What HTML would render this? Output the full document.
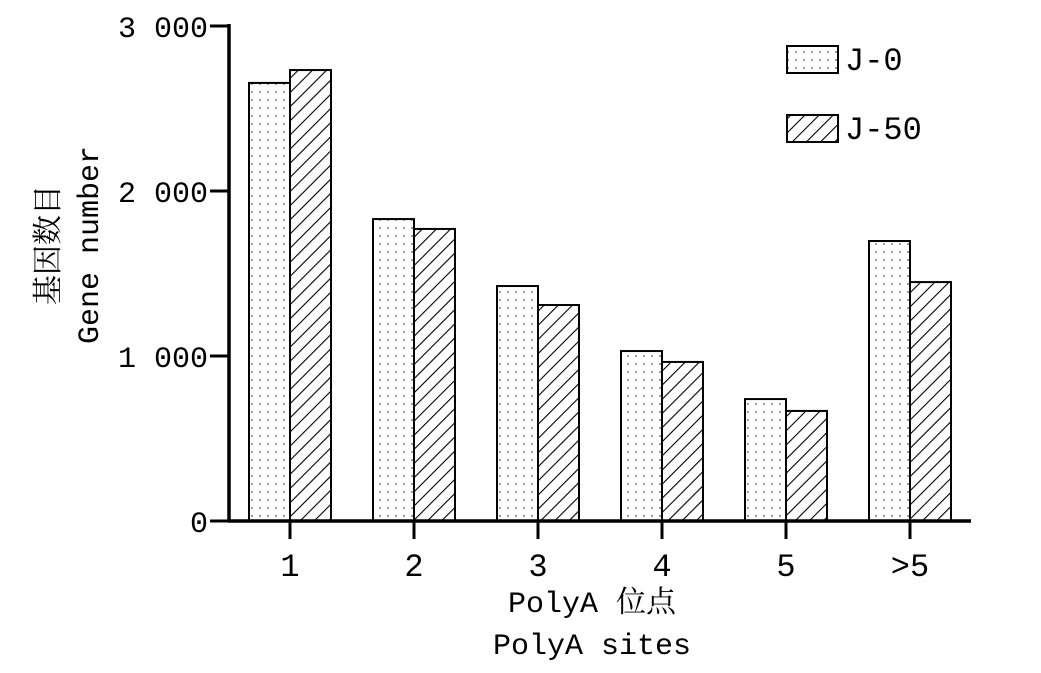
<!DOCTYPE html>
<html><head><meta charset="utf-8"><style>
html,body{margin:0;padding:0;background:#fff}
svg text{font-family:"Liberation Mono","Noto Serif CJK SC",monospace;fill:#000}
</style></head><body>
<svg width="1041" height="668" viewBox="0 0 1041 668" xmlns="http://www.w3.org/2000/svg">
<defs>
<pattern id="dots" width="8" height="8" patternUnits="userSpaceOnUse"><rect width="8" height="8" fill="#fff"/><circle cx="4" cy="4" r="0.9" fill="#555"/></pattern>
<pattern id="hatch" width="10" height="10" patternUnits="userSpaceOnUse" patternTransform="rotate(45)"><rect width="10" height="10" fill="#fff"/><line x1="0" y1="0" x2="0" y2="10" stroke="#000" stroke-width="2.2"/></pattern>
</defs>
<g id="plot"></g>
</svg>
<script>
const categories = ["1","2","3","4","5",">5"];
const seriesJ0 = [2655,1830,1424,1030,739,1697];
const seriesJ50 = [2733,1770,1309,964,667,1448];
const yTicks = [0,1000,2000,3000];
const yTickLabels = ["0","1 000","2 000","3 000"];
const NS="http://www.w3.org/2000/svg";
const g=document.getElementById('plot');
const y0=521, yTop=26, yMax=3000;
function yScale(v){return y0-(v/yMax)*(y0-yTop);}
function xCenter(i){return 290+i*124;}
function mk(tag,attrs,parent){const e=document.createElementNS(NS,tag);for(const k in attrs)e.setAttribute(k,attrs[k]);(parent||g).appendChild(e);return e;}
const bw=41;
categories.forEach((c,i)=>{
  const cx=xCenter(i);
  const a=mk('rect',{x:cx-bw,y:yScale(seriesJ0[i]),width:bw,height:y0-yScale(seriesJ0[i]),fill:'url(#dots)',stroke:'#000','stroke-width':2});
  
  
  const b=mk('rect',{x:cx,y:yScale(seriesJ50[i]),width:bw,height:y0-yScale(seriesJ50[i]),fill:'url(#hatch)',stroke:'#000','stroke-width':2});
  
  
  const t=mk('line',{x1:cx,x2:cx,y1:y0,y2:y0+18,stroke:'#000','stroke-width':3});
  
  
  const l=mk('text',{x:cx,y:576,'font-size':32,'text-anchor':'middle'});
  l.textContent=c;
  
  
});
yTicks.forEach((v,i)=>{
  const y=yScale(v);
  const t=mk('line',{x1:210,x2:229,y1:y,y2:y,stroke:'#000','stroke-width':3});
  
  
  const l=mk('text',{x:208,y:y+11,'font-size':30,'text-anchor':'end'});
  l.textContent=yTickLabels[i];
  
  
});
const ya=mk('line',{x1:229,x2:229,y1:24,y2:522,stroke:'#000','stroke-width':3.5});


const xa=mk('line',{x1:228,x2:971,y1:521,y2:521,stroke:'#000','stroke-width':3.5});


const legends=[["J-0","url(#dots)",46],["J-50","url(#hatch)",115]];
legends.forEach(([n,f,y])=>{
  const r=mk('rect',{x:787,y:y,width:51,height:27,fill:f,stroke:'#000','stroke-width':2});
  
  
  const t=mk('text',{x:845,y:y+24,'font-size':32});
  t.textContent=n;
  
  
});
const xt1=mk('text',{x:592,y:612,'font-size':30,'text-anchor':'middle'});xt1.textContent='PolyA 位点';


const xt2=mk('text',{x:592,y:654,'font-size':30,'text-anchor':'middle'});xt2.textContent='PolyA sites';


const yt1=mk('text',{x:0,y:0,'font-size':30,'text-anchor':'middle',transform:'translate(58,245) rotate(-90)'});yt1.textContent='基因数目';


const yt2=mk('text',{x:0,y:0,'font-size':30,'text-anchor':'middle',transform:'translate(98,245) rotate(-90)'});yt2.textContent='Gene number';


</script>
</body></html>
